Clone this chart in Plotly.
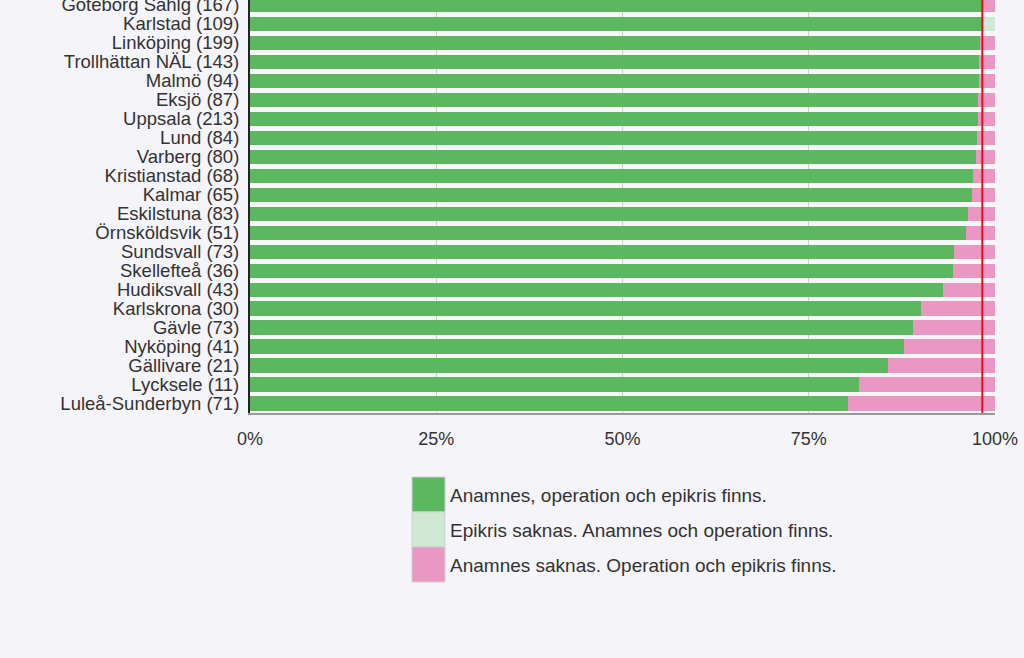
import plotly.graph_objects as go

# ---- data (top to bottom as shown) ----
hospitals = ["Göteborg Sahlg", "Karlstad", "Linköping", "Trollhättan NÄL", "Malmö", "Eksjö",
             "Uppsala", "Lund", "Varberg", "Kristianstad", "Kalmar", "Eskilstuna",
             "Örnsköldsvik", "Sundsvall", "Skellefteå", "Hudiksvall", "Karlskrona", "Gävle",
             "Nyköping", "Gällivare", "Lycksele", "Luleå-Sunderbyn"]
counts = [167, 109, 199, 143, 94, 87, 213, 84, 80, 68, 65, 83, 51, 73, 36, 43, 30, 73, 41, 21, 11, 71]
all_present = [98.2, 98.2, 98.0, 97.9, 97.9, 97.7, 97.7, 97.6, 97.5, 97.1, 96.9, 96.4,
               96.1, 94.5, 94.4, 93.0, 90.0, 89.0, 87.8, 85.7, 81.8, 80.3]
epikris_missing = [0, 1.8, 0, 0, 0, 0, 0, 0, 0, 0, 0, 0, 0, 0, 0, 0, 0, 0, 0, 0, 0, 0]
anamnes_missing = [round(100 - a - b, 1) for a, b in zip(all_present, epikris_missing)]
reference_line = 98.3

series_names = ["Anamnes, operation och epikris finns.",
                "Epikris saknas. Anamnes och operation finns.",
                "Anamnes saknas. Operation och epikris finns."]
series_colors = ["#5cb85f", "#cfe8d3", "#ea97c4"]
x_ticks = [0, 25, 50, 75, 100]
x_tick_labels = ["0%", "25%", "50%", "75%", "100%"]

labels = [f"{h} ({n})" for h, n in zip(hospitals, counts)]

W, H = 1024, 658
ML, MR, MT, MB = 250, 29, 0, 245
FONT = "Liberation Sans, Arial, sans-serif"
TXT = "#333333"

fig = go.Figure()
for name, vals, col in zip(series_names, [all_present, epikris_missing, anamnes_missing], series_colors):
    fig.add_trace(go.Bar(y=labels, x=vals, orientation="h", name=name,
                         marker=dict(color=col, line=dict(width=0)), showlegend=False,
                         hoverinfo="x+y"))

fig.add_shape(type="line", xref="x", yref="paper", x0=reference_line, x1=reference_line,
              y0=0, y1=1, line=dict(color="#e0101e", width=2))

# manual legend (large swatches like the original)
pw, ph = W - ML - MR, H - MT - MB
def px(xp):
    return (xp - ML) / pw
def py(yp):
    return (H - MB - yp) / ph

sw_x0, sw_x1 = 412, 445
sw_top, sw_h = 477, 35
for i, (name, col) in enumerate(zip(series_names, series_colors)):
    y0p = sw_top + i * sw_h
    fig.add_shape(type="rect", xref="paper", yref="paper",
                  x0=px(sw_x0), x1=px(sw_x1), y0=py(y0p + sw_h), y1=py(y0p),
                  fillcolor=col, line=dict(color="#d0d0d0", width=1))
    fig.add_annotation(xref="paper", yref="paper", x=px(448), y=py(y0p + sw_h / 2 + 1),
                       text=name, showarrow=False, xanchor="left", yanchor="middle",
                       font=dict(family=FONT, size=19, color=TXT))

fig.update_layout(
    width=W, height=H,
    margin=dict(l=ML, r=MR, t=MT, b=MB, pad=0, autoexpand=False),
    barmode="stack", bargap=0.25,
    paper_bgcolor="#f5f4f8", plot_bgcolor="#f7f6f9",
    font=dict(family=FONT, size=18, color=TXT),
    xaxis=dict(range=[0, 100], autorange=False, tickmode="array", tickvals=x_ticks,
               ticktext=x_tick_labels, automargin=False,
               showgrid=True, gridcolor="#cfcfcf", gridwidth=1, zeroline=False,
               showline=True, linecolor="#999999", linewidth=2, ticks="",
               tickfont=dict(size=18, color=TXT), ticklabelstandoff=8),
    yaxis=dict(categoryorder="array", categoryarray=labels[::-1], range=[-0.5, 21.26],
               autorange=False, automargin=False,
               tickmode="array", tickvals=labels, ticktext=labels,
               showgrid=False, showline=True, linecolor="#222222", linewidth=2, ticks="",
               tickfont=dict(size=18.5, color=TXT), ticklabelstandoff=5),
)

fig.write_html("out.html")
